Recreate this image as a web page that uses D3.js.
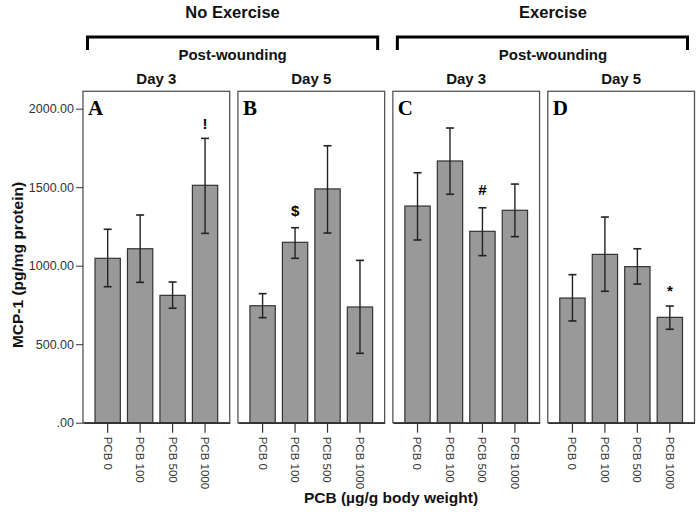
<!DOCTYPE html>
<html><head><meta charset="utf-8">
<script src="https://cdn.jsdelivr.net/npm/d3@7"></script>
<style>body{margin:0;background:#fff;}svg{display:block;font-family:"Liberation Sans",Arial,sans-serif;}</style>
</head><body><svg id="c" width="700" height="517"></svg>
<script>
const panels = ["A","B","C","D"];
const dayLabels = ["Day 3","Day 5","Day 3","Day 5"];
const groupLabels = ["No Exercise","Exercise"];
const categories = ["PCB 0","PCB 100","PCB 500","PCB 1000"];
const yTicks = [0,500,1000,1500,2000];
const meansA = [1047,1108,811,1512];
const meansB = [745,1149,1489,737];
const meansC = [1380,1667,1219,1353];
const meansD = [794,1072,994,671];
const lowA = [866,894,729,1206], highA = [1232,1323,896,1811];
const lowB = [669,1047,1208,442], highB = [822,1242,1764,1034];
const lowC = [1164,1455,1064,1185], highC = [1592,1877,1369,1520];
const lowD = [648,837,883,595], highD = [943,1310,1108,743];
const marks = [{p:"A",i:3,t:"!"},{p:"B",i:1,t:"$"},{p:"C",i:2,t:"#"},{p:"D",i:3,t:"*"}];

const means = {A:meansA,B:meansB,C:meansC,D:meansD};
const lows = {A:lowA,B:lowB,C:lowC,D:lowD};
const highs = {A:highA,B:highB,C:highC,D:highD};

const svg = d3.select("#c");
const y = d3.scaleLinear().domain([0,2000]).range([422.7,108.7]);
const panelTop = 91.3;
const outer = d3.scaleBand().domain(panels).range([83,694.5]).paddingInner(0.053);
const inner = d3.scaleBand().domain(categories).range([0,outer.bandwidth()]).paddingInner(0.22).paddingOuter(0.37);

const pw = outer.bandwidth();
[[0,1],[2,3]].forEach((pair,gi)=>{
  const x0 = outer(panels[pair[0]])+4.5, x1 = outer(panels[pair[1]])+pw-7;
  const cx = gi===0 ? (x0+x1)/2 : 553;
  svg.append("text").attr("x",cx).attr("y",12).attr("text-anchor","middle").attr("dominant-baseline","central")
    .attr("font-size",16.5).attr("font-weight","bold").attr("fill","#111").text(groupLabels[gi]);
  svg.append("path").attr("d",`M${x0},50V37H${x1}V50`).attr("fill","none").attr("stroke","#000").attr("stroke-width",3);
  svg.append("text").attr("x",cx).attr("y",54).attr("text-anchor","middle").attr("dominant-baseline","central")
    .attr("font-size",15).attr("font-weight","bold").attr("fill","#111").text("Post-wounding");
});

panels.forEach((p,pi)=>{
  const g = svg.append("g").attr("transform",`translate(${outer(p)},0)`);
  svg.append("text").attr("x",outer(p)+pw/2).attr("y",78).attr("text-anchor","middle").attr("dominant-baseline","central")
    .attr("font-size",15).attr("font-weight","bold").attr("fill","#111").text(dayLabels[pi]);
  g.append("rect").attr("x",0).attr("y",panelTop).attr("width",pw).attr("height",y(0)-panelTop)
    .attr("fill","#fff").attr("stroke","#555").attr("stroke-width",1.3);
  g.selectAll("rect.bar").data(means[p]).join("rect").attr("class","bar")
    .attr("x",(d,i)=>inner(categories[i])).attr("y",d=>y(d))
    .attr("width",inner.bandwidth()).attr("height",d=>y(0)-y(d))
    .attr("fill","#999").attr("stroke","#333").attr("stroke-width",1.2);
  const eb = g.selectAll("g.eb").data(categories).join("g").attr("class","eb")
    .attr("transform",c=>`translate(${inner(c)+inner.bandwidth()/2},0)`);
  eb.append("line").attr("y1",(c,i)=>y(lows[p][i])).attr("y2",(c,i)=>y(highs[p][i])).attr("stroke","#222").attr("stroke-width",1.4);
  eb.append("line").attr("x1",-4).attr("x2",4).attr("y1",(c,i)=>y(lows[p][i])).attr("y2",(c,i)=>y(lows[p][i])).attr("stroke","#222").attr("stroke-width",1.6);
  eb.append("line").attr("x1",-4).attr("x2",4).attr("y1",(c,i)=>y(highs[p][i])).attr("y2",(c,i)=>y(highs[p][i])).attr("stroke","#222").attr("stroke-width",1.6);
  const ax = g.append("g").attr("transform",`translate(0,${y(0)})`)
    .call(d3.axisBottom(inner).tickSize(10).tickSizeOuter(0));
  ax.select(".domain").attr("stroke","#333").attr("stroke-width",1.6);
  ax.selectAll(".tick line").attr("stroke","#333").attr("stroke-width",1.2);
  ax.selectAll(".tick text").attr("transform","rotate(90)").attr("text-anchor","start")
    .attr("x",14).attr("y",0).attr("dy","0.35em").attr("font-size",11.5).attr("fill","#333")
    .attr("font-family","'Liberation Sans',Arial,sans-serif");
  g.append("text").attr("x",5).attr("y",115).attr("font-family","'Liberation Serif','Times New Roman',serif")
    .attr("font-weight","bold").attr("font-size",21).attr("fill","#000").text(p);
});
marks.forEach(m=>{
  const top = highs[m.p][m.i];
  const cx = outer(m.p)+inner(categories[m.i])+inner.bandwidth()/2;
  const off = {"!":15,"$":17,"#":18,"*":16}[m.t];
  svg.append("text").attr("x",cx).attr("y",y(top)-off).attr("text-anchor","middle").attr("dominant-baseline","central")
    .attr("font-size",15).attr("font-weight","bold").attr("fill","#000").text(m.t);
});
const yax = svg.append("g").attr("transform",`translate(${outer("A")},0)`)
  .call(d3.axisLeft(y).tickValues(yTicks).tickSize(7).tickSizeOuter(0).tickFormat(d=>d===0?".00":d3.format(".2f")(d)));
yax.select(".domain").remove();
yax.selectAll(".tick line").attr("stroke","#333");
yax.selectAll(".tick text").attr("font-size",12.5).attr("fill","#333").attr("x",-9)
  .attr("font-family","'Liberation Sans',Arial,sans-serif");
svg.append("text").attr("transform","translate(17,265) rotate(-90)").attr("text-anchor","middle").attr("dominant-baseline","central")
  .attr("font-size",15.5).attr("font-weight","bold").attr("fill","#111").text("MCP-1 (pg/mg protein)");
svg.append("text").attr("x",391).attr("y",497).attr("text-anchor","middle").attr("dominant-baseline","central")
  .attr("font-size",15.5).attr("font-weight","bold").attr("fill","#111").text("PCB (µg/g body weight)");
</script></body></html>
